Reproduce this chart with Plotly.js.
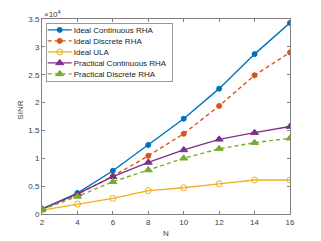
<!DOCTYPE html>
<html><head><meta charset="utf-8">
<script src="https://cdn.plot.ly/plotly-3.0.1.min.js"></script>
<style>html,body{margin:0;padding:0;background:#fff}#c{width:321px;height:241px}</style>
</head><body><div id="c"></div>
<script>
const N = [2, 4, 6, 8, 10, 12, 14, 16];
const idealCont = [900, 3760, 7760, 12400, 17100, 22500, 28700, 34300];
const idealDisc = [900, 3500, 6800, 10450, 14400, 19400, 24900, 29000];
const idealULA = [700, 1800, 2800, 4200, 4700, 5400, 6100, 6100];
const pracCont = [900, 3600, 6700, 9250, 11500, 13400, 14600, 15700];
const pracDisc = [800, 3150, 5800, 7900, 10000, 11700, 12800, 13600];
const yTickVals = [0, 5000, 10000, 15000, 20000, 25000, 30000, 35000];
const yTickText = ['0', '0.5', '1', '1.5', '2', '2.5', '3', '3.5'];
const xTickVals = [2, 4, 6, 8, 10, 12, 14, 16];
const names = ['Ideal Continuous RHA', 'Ideal Discrete RHA', 'Ideal ULA', 'Practical Continuous RHA', 'Practical Discrete RHA'];
const colors = ['#0072BD', '#D95319', '#EDB120', '#7E2F8E', '#77AC30'];

const FONT = 'Liberation Sans, Arial, sans-serif';
const series = [idealCont, idealDisc, idealULA, pracCont, pracDisc];
const dashes = ['solid', '4px,3px', 'solid', 'solid', '4px,3px'];
const symbols = ['circle', 'circle', 'circle-open', 'triangle-up', 'triangle-up'];
const sizes = [5, 5, 6, 7, 7];
const traces = series.map((s, i) => ({
  x: N, y: s, name: names[i], type: 'scatter', mode: 'lines+markers',
  line: {color: colors[i], width: 1.4, dash: dashes[i]},
  marker: {color: colors[i], symbol: symbols[i], size: sizes[i], line: {color: colors[i], width: 1}}
}));
const axisCommon = {
  showline: true, mirror: 'ticks', linecolor: '#808080', linewidth: 1,
  ticks: 'inside', ticklen: 3, tickcolor: '#808080', showgrid: false, zeroline: false,
  tickfont: {family: FONT, size: 8, color: '#404040'}
};
const layout = {
  width: 321, height: 241,
  margin: {l: 42, r: 31, t: 19, b: 27},
  paper_bgcolor: '#fff', plot_bgcolor: '#fff',
  showlegend: true,
  legend: {x: 0.015, y: 0.98, xanchor: 'left', yanchor: 'top', bgcolor: '#fff',
    bordercolor: '#999999', borderwidth: 1, tracegroupgap: 0,
    font: {family: FONT, size: 8, color: '#222'}, itemwidth: 30},
  xaxis: Object.assign({}, axisCommon, {range: [2, 16], tickvals: xTickVals}),
  yaxis: Object.assign({}, axisCommon, {range: [0, 35000], tickvals: yTickVals, ticktext: yTickText}),
  annotations: [
    {xref: 'paper', yref: 'paper', x: 0, y: 1, xanchor: 'left', yanchor: 'bottom', showarrow: false,
     text: '×10<sup>4</sup>', font: {family: FONT, size: 8, color: '#404040'}, yshift: -2},
    {xref: 'paper', yref: 'paper', x: 0.5, y: 0, xanchor: 'center', yanchor: 'middle', showarrow: false,
     text: 'N', font: {family: FONT, size: 8, color: '#404040'}, yshift: -19},
    {xref: 'paper', yref: 'paper', x: 0, y: 0.53, xanchor: 'center', yanchor: 'middle', showarrow: false,
     text: 'SINR', textangle: -90, font: {family: FONT, size: 8, color: '#404040'}, xshift: -21}
  ]
};
Plotly.newPlot('c', traces, layout, {displayModeBar: false, staticPlot: true}).then(gd => {
  const leg = gd.querySelector('g.legend');
  if (!leg) return;
  const items = leg.querySelectorAll('g.traces');
  items.forEach((g, i) => {
    g.setAttribute('transform', 'translate(0,' + (7 + i * 11) + ')');
    const t = g.querySelector('text.legendtext');
    if (t) t.setAttribute('x', 28);
    g.querySelectorAll('.legendlines path').forEach(p => p.setAttribute('d', 'M2,0h24'));
    g.querySelectorAll('.legendpoints path').forEach(p => p.setAttribute('transform', 'translate(14,0)'));
  });
  const bg = leg.querySelector('rect.bg');
  if (bg) { bg.setAttribute('height', 58); bg.setAttribute('width', 126); }
});
</script></body></html>
